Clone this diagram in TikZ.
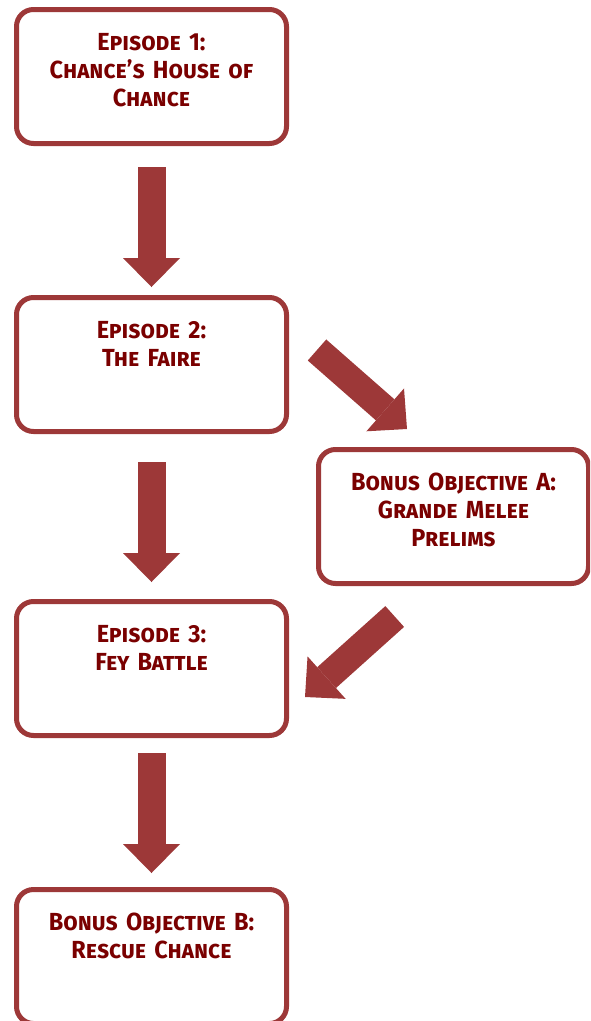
\documentclass[tikz,border=0pt]{standalone}
\usepackage{fontspec}
\setmainfont{Fira Sans}[Letters=SmallCaps, FakeStretch=0.95]
\usetikzlibrary{arrows.meta, positioning, calc}

\definecolor{boxred}{RGB}{157,56,56}
\definecolor{textred}{RGB}{122,0,0}

\begin{document}
\begin{tikzpicture}[
    x=1pt, y=1pt,
    node distance=149pt,
    every node/.style={rectangle, rounded corners=17pt, draw=boxred, line width=5pt,
        fill=white, minimum width=270pt, text width=260pt, align=center,
        inner xsep=5pt, inner ysep=0pt, text height=40.5pt, text depth=93.5pt,
        text=textred, font=\fontsize{24.7}{28}\selectfont\bfseries},
    bigarrow/.style={draw=boxred, line width=28pt,
        -{Triangle[width=57pt, length=29pt, line width=0pt]}}
]

\useasboundingbox (0,0) rectangle (590,-1021);
\clip (0,0) rectangle (590,-1021);

\node (ep1) at (151.5,-76.5) {Episode 1:\\Chance's House of\\Chance};
\node (ep2) [below=of ep1] {Episode 2:\\The Faire};
\node (bonA) [right=27pt of ep2, yshift=-152pt] {Bonus Objective A:\\Grande Melee\\Prelims};
\node (ep3) [below=165pt of ep2] {Episode 3:\\Fey Battle};
\node (bonB) [below=of ep3] {Bonus Objective B:\\Rescue Chance};

% side branch
\coordinate (forkA) at ($(ep2.east)+(28,14.5)$);
\coordinate (intoA) at ($(bonA.north)+(-46.5,18)$);
\coordinate (fromA) at ($(bonA.south)+(-58.8,-30.5)$);
\coordinate (into3) at ($(ep3.east)+(16,-28.5)$);

\draw[bigarrow, shorten <=21pt, shorten >=8pt] (ep1) -- (ep2);
\draw[bigarrow, shorten <=28pt, shorten >=17pt] (ep2) -- (ep3);
\draw[bigarrow, shorten <=15pt, shorten >=14pt] (ep3) -- (bonB);

\draw[bigarrow] (forkA) -- (intoA);
\draw[bigarrow] (fromA) -- (into3);

\end{tikzpicture}
\end{document}
